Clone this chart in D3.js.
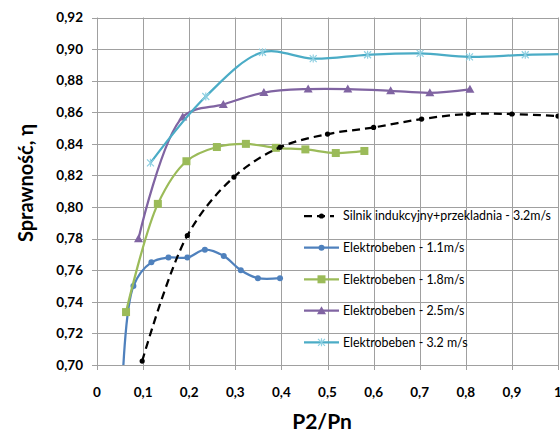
<!DOCTYPE html>
<html>
<head>
<meta charset="utf-8">
<script src="https://cdn.jsdelivr.net/npm/d3@7"></script>
<style>
  html, body { margin: 0; padding: 0; background: #fff; }
  svg { display: block; }
</style>
</head>
<body>
<div id="chart"></div>
<script>
let w = 560;
let h = 433;

// ticks
const xTicks = [0, 0.1, 0.2, 0.3, 0.4, 0.5, 0.6, 0.7, 0.8, 0.9, 1];
const yTicks = [0.70, 0.72, 0.74, 0.76, 0.78, 0.80, 0.82, 0.84, 0.86, 0.88, 0.90, 0.92];

// series
const silnikX = [0.098, 0.196, 0.297, 0.397, 0.500, 0.600, 0.704, 0.805, 0.900, 1.000];
const silnikY = [0.7025, 0.782, 0.819, 0.8378, 0.8462, 0.8504, 0.8557, 0.8589, 0.8589, 0.8576];

const e11X = [0.055, 0.079, 0.118, 0.155, 0.196, 0.234, 0.275, 0.312, 0.349, 0.397];
const e11Y = [0.685, 0.750, 0.765, 0.768, 0.768, 0.773, 0.769, 0.760, 0.755, 0.755];

const e18X = [0.063, 0.132, 0.194, 0.260, 0.323, 0.388, 0.452, 0.518, 0.580];
const e18Y = [0.7335, 0.802, 0.829, 0.838, 0.840, 0.8375, 0.8365, 0.8342, 0.8355];

const e25X = [0.090, 0.186, 0.274, 0.362, 0.458, 0.544, 0.637, 0.722, 0.809];
const e25Y = [0.780, 0.857, 0.865, 0.8725, 0.8747, 0.8747, 0.8736, 0.8723, 0.8745];

const e32X = [0.116, 0.236, 0.359, 0.469, 0.587, 0.701, 0.808, 0.929, 1.05];
const e32Y = [0.828, 0.870, 0.898, 0.894, 0.8964, 0.8973, 0.8951, 0.8964, 0.897];

const seriesNames = [
  "Silnik indukcyjny+przekladnia - 3.2m/s",
  "Elektrobeben - 1.1m/s",
  "Elektrobeben - 1.8m/s",
  "Elektrobeben - 2.5m/s",
  "Elektrobeben - 3.2 m/s"
];

const series = [
  { name: seriesNames[0], xs: silnikX, ys: silnikY, color: "#000000", marker: "dot", dash: "8,5" },
  { name: seriesNames[1], xs: e11X, ys: e11Y, color: "#4f81bd", marker: "circle" },
  { name: seriesNames[2], xs: e18X, ys: e18Y, color: "#9bbb59", marker: "square" },
  { name: seriesNames[3], xs: e25X, ys: e25Y, color: "#8064a2", marker: "triangle" },
  { name: seriesNames[4], xs: e32X, ys: e32Y, color: "#4bacc6", marker: "star" }
];

let svg = d3.select("#chart")
    .append("svg")
    .attr("width", w)
    .attr("height", h)
    .attr("viewBox", "0 0 " + w + " " + h);

const pLeft = 97, pRight = 558, pTop = 17.5, pBottom = 365;

const xScale = d3.scaleLinear().domain([0, 1]).range([pLeft, pRight]);
const yScale = d3.scaleLinear().domain([0.70, 0.92]).range([pBottom, pTop]);

const fmt = d => d3.format(".2f")(d).replace(".", ",");
const fmtX = d => (d === 0 || d === 1) ? String(d) : d3.format(".1f")(d).replace(".", ",");

// grid
const gridColor = "#a0a0a0";
svg.append("g")
    .selectAll("line")
    .data(yTicks)
    .join("line")
    .attr("x1", pLeft - 5)
    .attr("x2", pRight)
    .attr("y1", d => Math.round(yScale(d)) + 0.5)
    .attr("y2", d => Math.round(yScale(d)) + 0.5)
    .attr("stroke", gridColor)
    .attr("stroke-width", 1);

svg.append("g")
    .selectAll("line")
    .data(xTicks)
    .join("line")
    .attr("x1", d => Math.round(xScale(d)) + 0.5)
    .attr("x2", d => Math.round(xScale(d)) + 0.5)
    .attr("y1", pTop)
    .attr("y2", pBottom + 5)
    .attr("stroke", gridColor)
    .attr("stroke-width", 1);

// tick labels
svg.append("g")
    .selectAll("text")
    .data(yTicks)
    .join("text")
    .attr("x", 83)
    .attr("y", d => yScale(d))
    .attr("dy", "0.35em")
    .attr("text-anchor", "end")
    .attr("font-family", "Lato, sans-serif")
    .attr("font-weight", "bold")
    .attr("font-size", 13.5)
    .attr("fill", "#000")
    .text(fmt);

svg.append("g")
    .selectAll("text")
    .data(xTicks)
    .join("text")
    .attr("x", d => xScale(d))
    .attr("y", 397)
    .attr("text-anchor", "middle")
    .attr("font-family", "Lato, sans-serif")
    .attr("font-weight", "bold")
    .attr("font-size", 13.5)
    .attr("fill", "#000")
    .text(fmtX);

// axis titles
svg.append("text")
    .attr("x", 322)
    .attr("y", 429)
    .attr("text-anchor", "middle")
    .attr("font-family", "Lato, sans-serif")
    .attr("font-weight", "bold")
    .attr("font-size", 21)
    .text("P2/Pn");

svg.append("text")
    .attr("transform", "translate(33,183) rotate(-90)")
    .attr("text-anchor", "middle")
    .attr("font-family", "Lato, sans-serif")
    .attr("font-weight", "bold")
    .attr("font-size", 20)
    .text("Sprawność, η");

// clip
svg.append("defs").append("clipPath")
    .attr("id", "plotclip")
    .append("rect")
    .attr("x", pLeft)
    .attr("y", pTop - 5)
    .attr("width", pRight - pLeft + 0.5)
    .attr("height", pBottom - pTop + 5);

const line = d3.line()
    .x(d => xScale(d[0]))
    .y(d => yScale(d[1]))
    .curve(d3.curveCatmullRom.alpha(0.5));

function drawMarker(g, type, color, x, y) {
    if (type === "dot") {
        g.append("circle").attr("cx", x).attr("cy", y).attr("r", 2.6).attr("fill", color);
    } else if (type === "circle") {
        g.append("circle").attr("cx", x).attr("cy", y).attr("r", 3).attr("fill", color);
    } else if (type === "square") {
        g.append("rect").attr("x", x - 4).attr("y", y - 4).attr("width", 8).attr("height", 8).attr("fill", color);
    } else if (type === "triangle") {
        g.append("path")
            .attr("d", `M${x},${y - 4.5}L${x + 4.5},${y + 3.5}L${x - 4.5},${y + 3.5}Z`)
            .attr("fill", color);
    } else if (type === "star") {
        g.append("path")
            .attr("d", `M${x - 3.5},${y - 3.5}L${x + 3.5},${y + 3.5}M${x - 3.5},${y + 3.5}L${x + 3.5},${y - 3.5}M${x},${y - 4}L${x},${y + 4}`)
            .attr("stroke", "#8fd0e2")
            .attr("stroke-width", 1.2)
            .attr("fill", "none");
    }
}

const plot = svg.append("g").attr("clip-path", "url(#plotclip)");

// draw in order so the later series sit on top
const drawOrder = [1, 2, 0, 3, 4];
drawOrder.forEach(i => {
    const s = series[i];
    const pts = s.xs.map((x, k) => [x, s.ys[k]]);
    const g = plot.append("g");
    g.append("path")
        .datum(pts)
        .attr("d", line)
        .attr("fill", "none")
        .attr("stroke", s.color)
        .attr("stroke-width", 2.25)
        .attr("stroke-dasharray", s.dash || null);
    pts.forEach(p => {
        if (p[1] < 0.70 || p[0] > 1) return;
        drawMarker(g, s.marker, s.color, xScale(p[0]), yScale(p[1]));
    });
});

// legend
const legendY = [216, 247.7, 279.3, 310.7, 342.3];
const legend = svg.append("g");
series.forEach((s, i) => {
    const y = legendY[i];
    const g = legend.append("g");
    g.append("line")
        .attr("x1", 304)
        .attr("x2", s.dash ? 334 : 339)
        .attr("y1", y)
        .attr("y2", y)
        .attr("stroke", s.color)
        .attr("stroke-width", 2.25)
        .attr("stroke-dasharray", s.dash || null);
    drawMarker(g, s.marker, s.color, 321.5, y);
    g.append("text")
        .attr("x", 343)
        .attr("y", y)
        .attr("dy", "0.35em")
        .attr("font-family", "Lato, sans-serif")
        .attr("font-size", 12.4)
        .attr("fill", "#000")
        .text(s.name);
});
</script>
</body>
</html>
